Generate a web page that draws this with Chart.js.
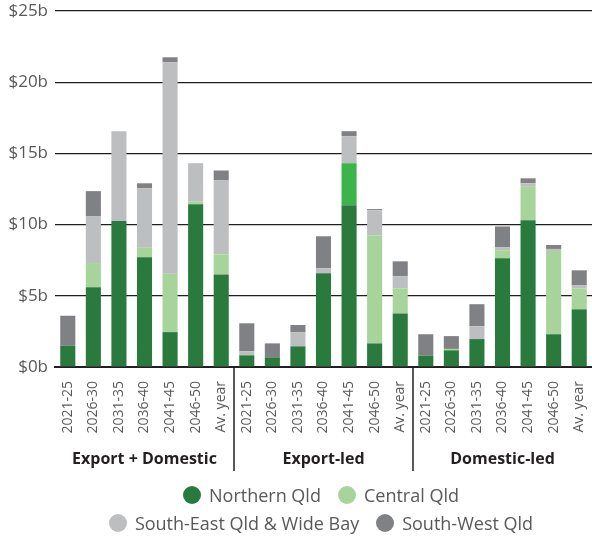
<!DOCTYPE html>
<html>
<head>
<meta charset="utf-8">
<script src="https://cdn.jsdelivr.net/npm/chart.js@4"></script>
<style>
  html, body { margin: 0; padding: 0; background: #fff; }
  #wrap { position: relative; width: 592px; height: 537px; }
  #legend {
    position: absolute; left: 50px; top: 481px; width: 542px;
    font-family: "Open Sans", sans-serif; font-size: 18px; color: #58595b;
  }
  .row { display: flex; justify-content: center; gap: 17px; height: 28px; align-items: center; }
  .item { display: flex; align-items: center; gap: 8px; }
  .dot { width: 18px; height: 18px; border-radius: 50%; display: inline-block; }
</style>
</head>
<body>
<div id="wrap">
  <canvas id="chart" width="592" height="537"></canvas>
  <div id="legend"></div>
</div>
<script>
/* Queensland investment by region — stacked bars, three scenarios */

const periods   = ['2021-25', '2026-30', '2031-35', '2036-40', '2041-45', '2046-50', 'Av. year'];
const scenarios = ['Export + Domestic', 'Export-led', 'Domestic-led'];
const yTicks    = [0, 5, 10, 15, 20, 25];

// $b, 7 periods per scenario
const northern  = [1.5, 5.6, 10.25, 7.7, 2.45, 11.43, 6.5,   0.82, 0.68, 1.45, 6.58, 11.36, 1.66, 3.76,   0.8, 1.17, 1.96, 7.63, 10.3, 2.3, 4.05];
const central   = [0, 1.7, 0, 0.7, 4.1, 0.18, 1.4,           0, 0, 0, 0, 2.95, 7.6, 1.76,                 0, 0.1, 0, 0.57, 2.4, 5.85, 1.47];
const southEast = [0, 3.3, 6.3, 4.15, 14.85, 2.7, 5.2,       0.28, 0, 1.0, 0.35, 1.9, 1.75, 0.85,         0, 0, 0.9, 0.2, 0.2, 0.14, 0.21];
const southWest = [2.1, 1.75, 0, 0.35, 0.35, 0, 0.7,         1.97, 0.98, 0.5, 2.25, 0.35, 0.08, 1.05,     1.5, 0.9, 1.55, 1.47, 0.35, 0.28, 1.06];

const labels = scenarios.flatMap(() => periods);

const C = {
  northern: '#2a7a3e',
  central: '#a6d49a',
  centralHi: '#3bb54a',
  southEast: '#bdbec0',
  southWest: '#808184',
  text: '#58595b',
  dark: '#231f20',
};
const FONT = '"Open Sans", sans-serif';

// one odd bar in the source uses a brighter green
const centralColors = central.map((v, i) => i === 11 ? C.centralHi : C.central);

const series = [
  { label: 'Northern Qld', data: northern, color: C.northern },
  { label: 'Central Qld', data: central, color: centralColors, legend: C.central },
  { label: 'South-East Qld & Wide Bay', data: southEast, color: C.southEast },
  { label: 'South-West Qld', data: southWest, color: C.southWest },
];

// group labels + dividers under the x axis
const groupPlugin = {
  id: 'groups',
  afterDraw(chart) {
    const { ctx, scales: { x }, chartArea } = chart;
    const n = periods.length;
    ctx.save();
    ctx.strokeStyle = C.dark;
    ctx.lineWidth = 1.5;
    for (let g = 1; g < scenarios.length; g++) {
      const px = (x.getPixelForValue(g * n - 1) + x.getPixelForValue(g * n)) / 2;
      ctx.beginPath();
      ctx.moveTo(px, chartArea.bottom);
      ctx.lineTo(px, 471);
      ctx.stroke();
    }
    ctx.fillStyle = C.dark;
    ctx.font = 'bold 16px ' + FONT;
    ctx.textAlign = 'center';
    ctx.textBaseline = 'middle';
    scenarios.forEach((s, g) => {
      const a = x.getPixelForValue(g * n), b = x.getPixelForValue(g * n + n - 1);
      ctx.fillText(s, (a + b) / 2, 459);
    });
    ctx.restore();
  },
};

new Chart(document.getElementById('chart'), {
  type: 'bar',
  data: {
    labels,
    datasets: series.map(s => ({
      label: s.label,
      data: s.data,
      backgroundColor: s.color,
      borderWidth: 0,
      barPercentage: 0.59,
      categoryPercentage: 1,
    })),
  },
  options: {
    responsive: false,
    animation: false,
    layout: { padding: { top: 11, right: 0, left: 0, bottom: 0 } },
    plugins: { legend: { display: false }, tooltip: { enabled: false } },
    scales: {
      x: {
        stacked: true,
        grid: { display: false },
        border: { display: true, color: C.dark, width: 2 },
        ticks: {
          color: C.text, font: { family: FONT, size: 14 },
          minRotation: 90, maxRotation: 90, padding: 6, autoSkip: false,
        },
        afterFit: s => { s.height = 170; s.paddingLeft = 0; s.paddingRight = 0; },
      },
      y: {
        stacked: true,
        min: 0, max: 25,
        afterBuildTicks: s => { s.ticks = yTicks.map(v => ({ value: v })); },
        grid: { color: C.dark, lineWidth: 1.2, drawTicks: false },
        border: { display: false },
        ticks: {
          color: C.text, font: { family: FONT, size: 17 }, padding: 7,
          callback: v => '$' + v + 'b',
        },
        afterFit: s => { s.width = 55; s.paddingTop = 0; s.paddingBottom = 0; },
      },
    },
  },
  plugins: [groupPlugin],
});

// html legend, two rows like the source
const rows = [[series[0], series[1]], [series[2], series[3]]];
document.getElementById('legend').innerHTML = rows.map(r =>
  `<div class="row">${r.map(s =>
    `<span class="item"><span class="dot" style="background:${s.legend || s.color}"></span>${s.label}</span>`
  ).join('')}</div>`).join('');
</script>
</body>
</html>
